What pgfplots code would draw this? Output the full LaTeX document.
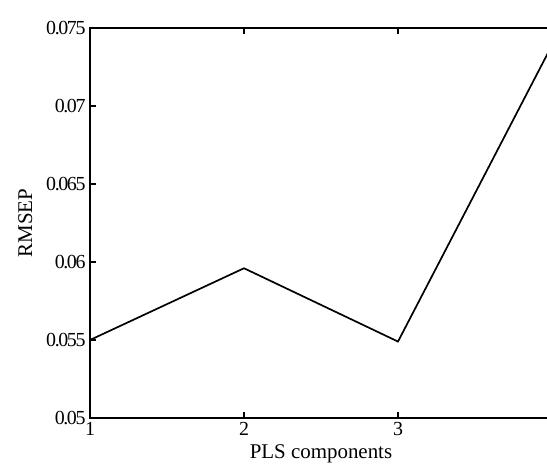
\documentclass[border=0pt]{standalone}
\usepackage{fontspec}
\setmainfont{Liberation Serif}
\usepackage{pgfplots}
\pgfplotsset{compat=1.18}
\begin{document}
\begin{tikzpicture}
\begin{axis}[
  at={(0,0)}, anchor=south west,
  scale only axis, width=462bp, height=390bp,
  xmin=1, xmax=4, ymin=0.05, ymax=0.075,
  xtick={1,2,3}, xticklabels={1,2,3},
  ytick={0.05,0.055,0.06,0.065,0.07,0.075},
  yticklabels={0.05,0.055,0.06,0.065,0.07,0.075},
  scaled y ticks=false, scaled x ticks=false,
  ytick pos=left,
  tick align=inside,
  major tick length=6bp,
  axis line style={line width=1.7bp},
  every tick/.style={line width=1.7bp, black},
  tick label style={font=\fontsize{20}{22}\selectfont\addfontfeature{LetterSpace=-7}},
  label style={font=\fontsize{21}{23}\selectfont},
  xticklabel style={yshift=-1bp},
  yticklabel style={xshift=-1bp},
  xlabel={PLS components},
  ylabel={RMSEP},
  xlabel style={yshift=-2bp},
  ylabel style={yshift=7bp},
  clip=true,
]
\addplot[black, line width=1.7bp] coordinates {
  (1,0.0550) (2,0.0596) (3,0.0549) (4,0.0739)
};
\end{axis}
\pgfresetboundingbox
\path[use as bounding box] (-90bp,-46bp) rectangle (457bp,418bp);
\end{tikzpicture}
\end{document}
